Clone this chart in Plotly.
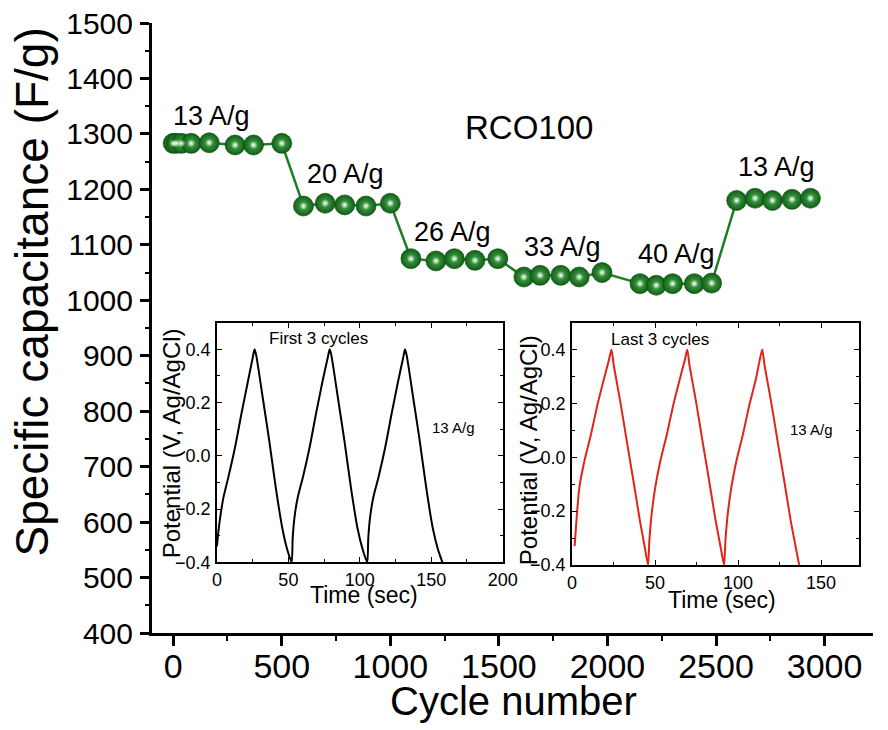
import plotly.graph_objects as go

# Rate capability of RCO100: specific capacitance vs cycle number
cycle_number = [0, 15, 38, 83, 166, 285, 370, 500,
                600, 700, 790, 888, 1000,
                1095, 1210, 1295, 1390, 1495,
                1615, 1690, 1785, 1870, 1975,
                2150, 2225, 2300, 2400, 2480,
                2595, 2680, 2760, 2850, 2935]
capacitance = [1283, 1283, 1283, 1283, 1284, 1280, 1280, 1283,
               1170, 1175, 1172, 1170, 1175,
               1075, 1071, 1075, 1072, 1075,
               1042, 1045, 1045, 1042, 1050,
               1030, 1027, 1030, 1030, 1031,
               1180, 1184, 1180, 1182, 1184]

# Current density labels: (text, cycle, capacitance)
rate_labels = ["13 A/g", "20 A/g", "26 A/g", "33 A/g", "40 A/g", "13 A/g"]
rate_label_x = [175, 794, 1285, 1795, 2317, 2778]
rate_label_y = [1332, 1228, 1123, 1096, 1083, 1240]

x_ticks = [0, 500, 1000, 1500, 2000, 2500, 3000]
y_ticks = [400, 500, 600, 700, 800, 900, 1000, 1100, 1200, 1300, 1400, 1500]

# Galvanostatic charge/discharge, first three cycles
t_first = [0, 1.1, 2.3, 4.6, 8.0, 12.6, 17.1, 21.7, 25.1, 26.3,
           27.4, 32.0, 36.6, 41.1, 45.7, 49.1, 52.3,
           53.0, 54.3, 56.6, 60.2, 64.8, 69.3, 73.9, 77.6, 78.9,
           80.0, 84.6, 89.2, 93.7, 98.3, 101.9, 105.2,
           105.9, 107.2, 109.5, 113.1, 117.7, 122.2, 126.8, 130.4, 131.6,
           132.7, 137.3, 141.9, 146.4, 151.0, 154.6, 157.8]
v_first = [-0.34, -0.28, -0.23, -0.155, -0.08, 0.03, 0.157, 0.28, 0.37, 0.40,
           0.38, 0.22, 0.057, -0.117, -0.27, -0.35, -0.40,
           -0.31, -0.23, -0.155, -0.08, 0.03, 0.157, 0.28, 0.37, 0.40,
           0.38, 0.22, 0.057, -0.117, -0.27, -0.35, -0.40,
           -0.31, -0.23, -0.155, -0.08, 0.03, 0.157, 0.28, 0.37, 0.40,
           0.38, 0.22, 0.057, -0.117, -0.27, -0.35, -0.40]

# Galvanostatic charge/discharge, last three cycles
t_last = [1.6, 3.0, 4.5, 7.5, 11.4, 15.3, 19.3, 22.2, 23.8,
          25.2, 29.1, 33.0, 37.0, 40.9, 43.8, 45.8,
          46.6, 48.0, 50.2, 53.2, 57.1, 61.0, 65.0, 67.9, 69.4,
          70.8, 74.7, 78.6, 82.6, 86.5, 89.5, 91.6,
          92.4, 93.8, 96.0, 99.0, 102.9, 106.8, 110.8, 113.0, 114.6,
          116.0, 119.9, 123.8, 127.8, 131.7, 134.7, 136.8]
v_last = [-0.33, -0.21, -0.11, -0.014, 0.084, 0.194, 0.292, 0.36, 0.40,
          0.34, 0.207, 0.06, -0.087, -0.235, -0.333, -0.40,
          -0.31, -0.21, -0.11, -0.014, 0.084, 0.194, 0.292, 0.36, 0.40,
          0.34, 0.207, 0.06, -0.087, -0.235, -0.333, -0.40,
          -0.31, -0.21, -0.11, -0.014, 0.084, 0.194, 0.292, 0.36, 0.40,
          0.34, 0.207, 0.06, -0.087, -0.235, -0.333, -0.40]

FONT = "Liberation Sans, Arial, Helvetica, sans-serif"
W, H = 888, 730
ML, MR, MT, MB = 152, 0, 23, 97
PW, PH = W - ML - MR, H - MT - MB


def px_x(x):
    return (x - ML) / PW


def px_y(y):
    return (H - MB - y) / PH


fig = go.Figure()

# main series: connecting line + shaded spheres
fig.add_trace(go.Scatter(
    x=cycle_number, y=capacitance, mode="lines+markers",
    line=dict(color="#1f7d27", width=2.5),
    marker=dict(size=20, color="#105e16",
                gradient=dict(type="radial", color="#4cae50"),
                line=dict(color="#0b4a10", width=0.6)),
    xaxis="x", yaxis="y", showlegend=False, hoverinfo="x+y"))

# specular glint on each sphere
fig.add_trace(go.Scatter(
    x=cycle_number, y=capacitance, mode="markers",
    marker=dict(size=8, color="rgba(255,255,255,0)",
                gradient=dict(type="radial", color="rgba(255,255,255,1)"),
                line=dict(width=0)),
    xaxis="x", yaxis="y", showlegend=False, hoverinfo="skip"))

fig.add_trace(go.Scatter(
    x=t_first, y=v_first, mode="lines",
    line=dict(color="black", width=2, shape="spline", smoothing=0.6),
    xaxis="x3", yaxis="y3", showlegend=False))

fig.add_trace(go.Scatter(
    x=t_last, y=v_last, mode="lines",
    line=dict(color="#e2231a", width=2, shape="spline", smoothing=0.6),
    xaxis="x4", yaxis="y4", showlegend=False))

main_x_range = [-97.5, 3223]
main_y_range = [400, 1500]

layout = dict(
    width=W, height=H,
    margin=dict(l=ML, r=MR, t=MT, b=MB, pad=0),
    paper_bgcolor="white", plot_bgcolor="white",
    font=dict(family=FONT, color="black"),
    xaxis=dict(domain=[0, 1], range=main_x_range, anchor="y",
               tickvals=x_ticks, ticks="outside", ticklen=10, tickwidth=2.5,
               tickcolor="black", showline=True, linecolor="black", linewidth=3,
               showgrid=False, zeroline=False,
               tickfont=dict(family=FONT, size=34, color="black"),
               ticklabelstandoff=-9,
               minor=dict(dtick=250, tick0=0, ticks="outside", ticklen=5,
                          tickwidth=2, tickcolor="black", showgrid=False)),
    yaxis=dict(domain=[0, 1], range=main_y_range, anchor="x",
               tickvals=y_ticks, ticks="outside", ticklen=9, tickwidth=2.5,
               tickcolor="black", showline=True, linecolor="black", linewidth=3,
               showgrid=False, zeroline=False,
               tickfont=dict(family=FONT, size=30, color="black"),
               ticklabelstandoff=1,
               minor=dict(dtick=50, tick0=0, ticks="outside", ticklen=4,
                          tickwidth=2, tickcolor="black", showgrid=False)),
    # top and right frame with inward ticks
    xaxis2=dict(overlaying="x", side="top", anchor="y", range=main_x_range,
                tickvals=x_ticks, ticks="inside", ticklen=10, tickwidth=2.5,
                tickcolor="black", showline=True, linecolor="black", linewidth=3,
                showticklabels=False, showgrid=False, zeroline=False,
                minor=dict(dtick=250, tick0=0, ticks="inside", ticklen=5,
                           tickwidth=2, tickcolor="black", showgrid=False)),
    yaxis2=dict(overlaying="y", side="right", anchor="x", range=main_y_range,
                tickvals=y_ticks, ticks="inside", ticklen=9, tickwidth=2.5,
                tickcolor="black", showline=False,
                showticklabels=False, showgrid=False, zeroline=False,
                minor=dict(dtick=50, tick0=0, ticks="inside", ticklen=4,
                           tickwidth=2, tickcolor="black", showgrid=False)),
)


def inset_axes(xdom, ydom, xrange, xanchor, yanchor):
    common = dict(showline=True, linecolor="black", linewidth=1.8, mirror="ticks",
                  ticks="inside", ticklen=5, tickwidth=1.3, tickcolor="black",
                  showgrid=False, zeroline=False,
                  tickfont=dict(family=FONT, size=18, color="black"))
    xa = dict(common, domain=xdom, range=xrange, anchor=yanchor, dtick=50, tick0=0,
              ticklabelstandoff=0,
              minor=dict(dtick=25, tick0=0, ticks="inside", ticklen=3,
                         tickwidth=1.2, tickcolor="black"))
    ya = dict(common, domain=ydom, range=[-0.4, 0.5], anchor=xanchor,
              tickvals=[-0.4, -0.2, 0.0, 0.2, 0.4], tickformat=".1f",
              ticklabelstandoff=1,
              minor=dict(dtick=0.1, tick0=0, ticks="inside", ticklen=3,
                         tickwidth=1.2, tickcolor="black"))
    return xa, ya


x3, y3 = inset_axes([px_x(218.3), px_x(510)], [px_y(562.3), px_y(322.7)],
                    [0, 200], "x3", "y3")
x4, y4 = inset_axes([px_x(580.7), px_x(874)], [px_y(565), px_y(322.7)],
                    [0, 173], "x4", "y4")
layout.update(xaxis3=x3, yaxis3=y3, xaxis4=x4, yaxis4=y4)

CENTER = dict(xanchor="center", yanchor="middle", showarrow=False)

annotations = []
for txt, ax, ay in zip(rate_labels, rate_label_x, rate_label_y):
    annotations.append(dict(CENTER, x=ax, y=ay, xref="x", yref="y", text=txt,
                            font=dict(family=FONT, size=27)))
annotations.append(dict(CENTER, x=1641, y=1311, xref="x", yref="y", text="RCO100",
                        font=dict(family=FONT, size=33)))

# axis titles
annotations.append(dict(CENTER, x=px_x(30), y=px_y(292), xref="paper", yref="paper",
                        text="Specific capacitance (F/g)", textangle=-90,
                        font=dict(family=FONT, size=46)))
annotations.append(dict(CENTER, x=px_x(521), y=px_y(701), xref="paper", yref="paper",
                        text="Cycle number", font=dict(family=FONT, size=40)))

# inset titles and notes
for cx, cy in [(171.7, 443), (536, 450)]:
    annotations.append(dict(CENTER, x=px_x(cx), y=px_y(cy), xref="paper", yref="paper",
                            text="Potential (V, Ag/AgCl)", textangle=-90,
                            font=dict(family=FONT, size=24)))
for cx, cy in [(368, 595), (734, 600)]:
    annotations.append(dict(CENTER, x=px_x(cx), y=px_y(cy), xref="paper", yref="paper",
                            text="Time (sec)", font=dict(family=FONT, size=23)))
annotations.append(dict(CENTER, x=71.4, y=0.442, xref="x3", yref="y3",
                        text="First 3 cycles", font=dict(family=FONT, size=17)))
annotations.append(dict(CENTER, x=165.7, y=0.106, xref="x3", yref="y3",
                        text="13 A/g", font=dict(family=FONT, size=15)))
annotations.append(dict(CENTER, x=53.2, y=0.439, xref="x4", yref="y4",
                        text="Last 3 cycles", font=dict(family=FONT, size=17)))
annotations.append(dict(CENTER, x=144, y=0.105, xref="x4", yref="y4",
                        text="13 A/g", font=dict(family=FONT, size=15)))

layout["annotations"] = annotations
fig.update_layout(**layout)

fig.write_html("out.html")
